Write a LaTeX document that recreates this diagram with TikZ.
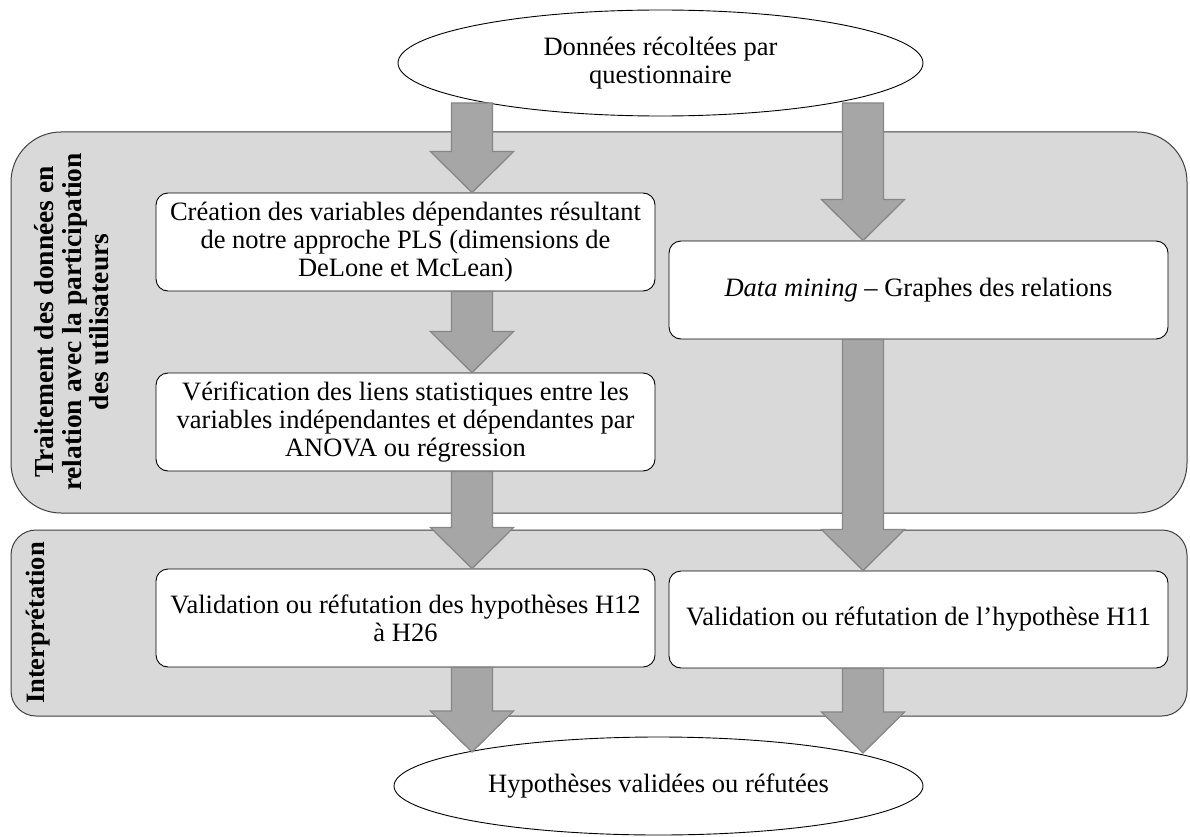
\documentclass[tikz,border=0pt]{standalone}
\usepackage{fontspec}
\setmainfont{Liberation Serif}
\usetikzlibrary{shapes.geometric,calc}
\definecolor{panelfill}{RGB}{217,217,217}
\definecolor{panelline}{RGB}{64,64,64}
\definecolor{arrfill}{RGB}{166,166,166}
\definecolor{arrline}{RGB}{135,135,135}
\tikzset{
  panel/.style={draw=panelline, fill=panelfill, line width=1pt},
  box/.style={draw=black, fill=white, line width=0.9pt, rounded corners=12pt,
    minimum width=499pt, minimum height=98pt, inner sep=0pt, align=center,
    font=\fontsize{26.5}{28.3}\selectfont},
  oval/.style={draw=black, fill=white, line width=0.9pt, ellipse, inner sep=0pt,
    align=center, font=\fontsize{26.5}{27.5}\selectfont},
  sidelabel/.style={rotate=90, align=center, font=\bfseries\fontsize{27.5}{27.5}\selectfont},
  blockarr/.style={draw=arrline, fill=arrfill, line width=1.3pt, line join=miter}
}
\newcommand\blockarrow[2]{%
  \path let \p1=(#1), \p2=(#2) in
    [blockarr] (\x1-20.5pt,\y1) -- (\x1+20.5pt,\y1) -- (\x1+20.5pt,\y2+41pt)
    -- (\x1+41.5pt,\y2+41pt) -- (\x2,\y2) -- (\x1-41.5pt,\y2+41pt)
    -- (\x1-20.5pt,\y2+41pt) -- cycle;}
\begin{document}
\begin{tikzpicture}[x=1pt,y=-1pt]
\useasboundingbox (0,0) rectangle (1190,837);
\fill[white] (0,0) rectangle (1190,837);
% panels
\draw[panel, rounded corners=50pt] (11,132) rectangle (1187,513);
\draw[panel, rounded corners=25pt] (11,530) rectangle (1187,716);
\node[sidelabel] (lab1) at (72,322) {Traitement des données en\\relation avec la participation\\des utilisateurs};
\node[sidelabel, font=\bfseries\fontsize{26.5}{27}\selectfont] (lab2) at (38,623) {Interprétation};
% boxes
\node[box] (boxA) at (405.5,242) {Création des variables dépendantes résultant\\de notre approche PLS (dimensions de\\DeLone et McLean)};
\node[box] (boxB) at (405.5,422) {Vérification des liens statistiques entre les\\variables indépendantes et dépendantes par\\ANOVA ou régression};
\node[box] (boxC) at (918.5,290) {\textit{Data mining} – Graphes des relations};
\node[box] (boxD) at (405.5,618) {Validation ou réfutation des hypothèses H12\\à H26};
\node[box, minimum height=97pt] (boxE) at (918.5,619.5) {Validation ou réfutation de l’hypothèse H11};
% ellipses
\node[oval, minimum width=525pt, minimum height=106pt] (top) at (660.5,63) {Données récoltées par\\questionnaire};
\node[oval, minimum width=529pt, minimum height=98pt] (bot) at (658.5,786) {Hypothèses validées ou réfutées};
% arrow anchors
\coordinate (l0) at (472,103);
\coordinate (lend) at (472,752);
\coordinate (r0) at (863,103);
\coordinate (rend) at (863,753);
% block arrows
\blockarrow{l0}{boxA.north -| l0}
\blockarrow{boxA.south -| l0}{boxB.north -| l0}
\blockarrow{boxB.south -| l0}{boxD.north -| l0}
\blockarrow{boxD.south -| l0}{lend}
\blockarrow{r0}{boxC.north -| r0}
\blockarrow{boxC.south -| r0}{boxE.north -| r0}
\blockarrow{boxE.south -| r0}{rend}
\end{tikzpicture}
\end{document}
